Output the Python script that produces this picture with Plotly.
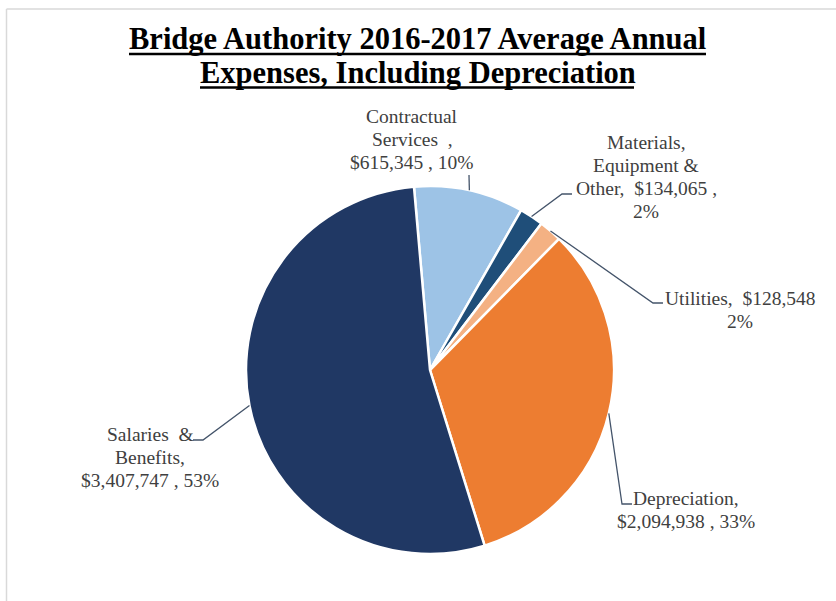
import math
import plotly.graph_objects as go

# ---- data -------------------------------------------------------------
categories = ["Contractual Services", "Materials, Equipment & Other",
              "Utilities", "Depreciation", "Salaries & Benefits"]
expenses = [615345, 134065, 128548, 2094938, 3407747]
slice_colors = ["#9DC3E6", "#1F4E79", "#F4B183", "#ED7D31", "#203864"]

# label text, wrapped the way the labels are laid out
label_lines = {
    "Contractual Services": ["Contractual", "Services  ,", "{val} , {pct}"],
    "Materials, Equipment & Other": ["Materials,", "Equipment &", "Other,  {val} ,", "{pct}"],
    "Utilities": ["Utilities,  {val}", "{pct}"],
    "Depreciation": ["Depreciation,", "{val} , {pct}"],
    "Salaries & Benefits": ["Salaries  &", "Benefits,", "{val} , {pct}"],
}

title_lines = ["Bridge Authority 2016-2017 Average Annual",
               "Expenses, Including Depreciation"]

# ---- page geometry (pixels) --------------------------------------------
W, H = 836, 601
CX, CY, R = 430, 370, 184          # pie centre and radius
ROTATION = -5                      # start angle of the first slice


def px(x):
    return x / W


def py(y):
    return (H - y) / H


total = sum(expenses)

fig = go.Figure(go.Pie(
    labels=categories,
    values=expenses,
    sort=False,
    direction="clockwise",
    rotation=ROTATION,
    textinfo="none",
    marker=dict(colors=slice_colors, line=dict(color="white", width=2.5)),
    domain=dict(x=[px(CX - R), px(CX + R)], y=[py(CY + R), py(CY - R)]),
    showlegend=False,
))

# label placement: centre x, first baseline y, and the leader-line bend/end
label_pos = {
    "Contractual Services": dict(x=412, y=123, path=[(469, 175)]),
    "Materials, Equipment & Other": dict(x=646, y=149, path=[(562, 194), (572, 194)]),
    "Utilities": dict(x=740, y=305, path=[(653, 303), (663, 303)]),
    "Depreciation": dict(x=686, y=505, path=[(622, 504), (632, 504)]),
    "Salaries & Benefits": dict(x=150, y=441, path=[(203, 440), (193, 440)]),
}

FS = 19.5
LINE_H = 23
annotations = []
shapes = []
cum = 0
for name, val in zip(categories, expenses):
    share = val / total
    mid = ROTATION + 360 * (cum + share / 2)
    cum += share
    a = math.radians(mid)
    ax, ay = CX + R * math.sin(a), CY - R * math.cos(a)

    pos = label_pos[name]
    pts = [(ax, ay)] + pos["path"]
    d = "M " + " L ".join(f"{px(x):.5f},{py(y):.5f}" for x, y in pts)
    shapes.append(dict(type="path", xref="paper", yref="paper", path=d,
                       line=dict(color="#44546A", width=1.3)))

    val_txt = f"${val:,}"
    pct_txt = f"{round(share * 100)}%"
    for i, line in enumerate(label_lines[name]):
        base = pos["y"] + i * LINE_H
        annotations.append(dict(
            text=line.format(val=val_txt, pct=pct_txt).replace("  ", "&nbsp; "),
            x=px(pos["x"]), y=py(base - 0.34 * FS),
            xref="paper", yref="paper", xanchor="center", yanchor="middle",
            showarrow=False,
            font=dict(family="Liberation Serif", size=FS, color="#404040"),
        ))

# title, with a heavy underline under each line
TFS = 30.5
title_base = [49.5, 83]
title_span = [(129, 706), (200, 634)]
for t, base, (x0, x1) in zip(title_lines, title_base, title_span):
    annotations.append(dict(
        text=f"<b>{t}</b>",
        x=px(417.5), y=py(base - 0.34 * TFS),
        xref="paper", yref="paper", xanchor="center", yanchor="middle",
        showarrow=False,
        font=dict(family="Liberation Serif", size=TFS, color="#000000"),
    ))
    shapes.append(dict(type="line", xref="paper", yref="paper",
                       x0=px(x0), x1=px(x1), y0=py(base + 4.5), y1=py(base + 4.5),
                       line=dict(color="#000000", width=2.6)))

# chart-area border (top and left edges visible)
shapes.append(dict(type="line", xref="paper", yref="paper",
                   x0=px(6.5), x1=1.02, y0=py(9), y1=py(9),
                   line=dict(color="#D9D9D9", width=1.5)))
shapes.append(dict(type="line", xref="paper", yref="paper",
                   x0=px(6.5), x1=px(6.5), y0=py(9), y1=-0.02,
                   line=dict(color="#D9D9D9", width=1.5)))

fig.update_layout(
    width=W, height=H, autosize=False,
    margin=dict(l=0, r=0, t=0, b=0),
    paper_bgcolor="white", plot_bgcolor="white",
    annotations=annotations, shapes=shapes,
)

fig.write_html("out.html")
